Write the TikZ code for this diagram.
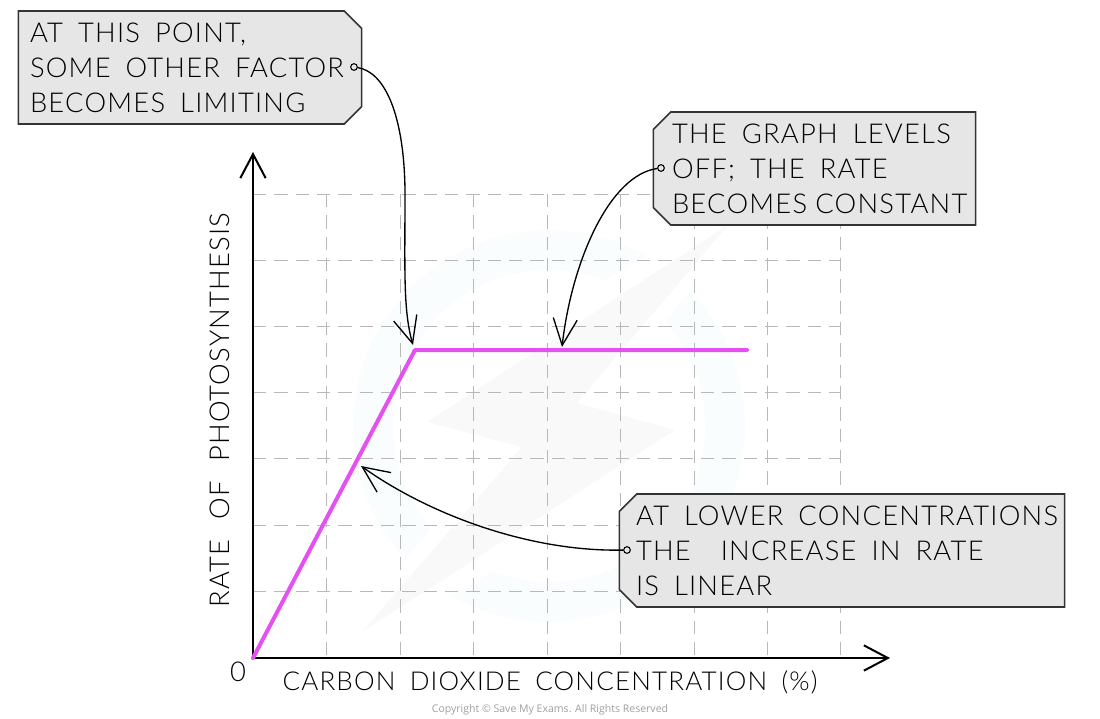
\documentclass[tikz,border=0pt]{standalone}
\usepackage{fontspec}
\usetikzlibrary{arrows.meta,shapes.misc}
\setmainfont{Lato Light}[LetterSpace=4.5]
\newfontfamily\copyfont{Open Sans}
\definecolor{boxfill}{HTML}{E6E6E6}
\definecolor{boxline}{HTML}{333333}
\definecolor{gridgray}{HTML}{B8B8B8}
\definecolor{curvepink}{HTML}{E450F2}
\definecolor{ringpale}{HTML}{FAFDFE}
\definecolor{boltpale}{HTML}{F9F9F9}
\newcommand{\wideword}{\spaceskip=0.55em\relax\xspaceskip=0.55em\relax}
\newcommand{\widerword}{\spaceskip=0.72em\relax\xspaceskip=0.72em\relax}
\tikzset{
  x=0.75pt,y=-0.75pt,
  callout/.style={chamfered rectangle,chamfered rectangle xsep=6.5pt,chamfered rectangle ysep=6.5pt,
    draw=boxline,fill=boxfill,line width=1.2pt,minimum height=84.75pt,align=left,inner ysep=0pt,
    font=\fontsize{20.5pt}{26.25pt}\selectfont},
  gridline/.style={gridgray,line width=0.7pt,dash pattern=on 10pt off 6pt},
  axisline/.style={black,line width=1.5pt,-{Straight Barb[length=18pt,width=19pt,line width=1.5pt]}},
  pointer/.style={black,line width=1pt,-{Straight Barb[length=20pt,width=18pt,line width=1pt]}},
  pin/.style={circle,draw=black,line width=0.8pt,fill=none,minimum size=5pt,inner sep=0pt},
  axislabel/.style={font=\fontsize{20.5pt}{24pt}\selectfont,inner sep=0pt},
}
\begin{document}
\begin{tikzpicture}
\useasboundingbox (0,0) rectangle (1100,718);
% watermark
\fill[ringpale,even odd rule] (549,426) circle[radius=147pt] (549,426) circle[radius=117pt];
\fill[white] (745,205) -- (607,278) -- (627,373) -- (690,290) -- (770,260) -- cycle;
\fill[white] (407,558) -- (473,477) -- (490,573) -- (400,623) -- (350,640) -- cycle;
\fill[boltpale] (728,225) -- (427,422) -- (522,447) -- (362,632) -- (675,430) -- (577,403) -- cycle;
% grid
\foreach \gx in {326,400,473,547,620,694,767,840}
  \draw[gridline] (\gx,194) -- (\gx,658);
\foreach \gy in {194,260,326,392,458,525,591}
  \draw[gridline] (253,\gy) -- (840,\gy);
% axes
\coordinate (origin) at (253,658);
\coordinate (ytop) at (253,152);
\coordinate (xend) at (890,658);
\draw[axisline] (origin) -- (ytop);
\draw[axisline] (origin) -- (xend);
% curve
\coordinate (knee) at (415,350);
\coordinate (curveend) at (747,350);
\draw[curvepink,line width=3pt,line cap=round,line join=round] (origin) -- (knee) -- (curveend);
% labels
\node[axislabel,rotate=90] (ylabel) at (220,410) {\widerword RATE OF PHOTOSYNTHESIS};
\node[axislabel,font=\fontsize{19.5pt}{24pt}\selectfont] (xlabel) at (550,682) {\wideword CARBON DIOXIDE CONCENTRATION (\%)};
\node[axislabel] (zero) at (238,672) {0};
\node[font=\copyfont\fontsize{7.9pt}{9pt}\selectfont,text=gray!75,inner sep=0pt] (copyright) at (550,710) {Copyright © Save My Exams. All Rights Reserved};
% callouts
\node[callout,chamfered rectangle corners={north east,south east},text width=240pt,inner xsep=2.25pt] (boxa) at (190,67.5)
  {\wideword\mbox{AT THIS POINT,}\\\mbox{SOME OTHER FACTOR}\\\mbox{BECOMES LIMITING}};
\node[callout,chamfered rectangle corners={north west,south west},text width=213.75pt,inner xsep=7.5pt] (boxb) at (814.5,168.5)
  {\wideword\mbox{THE GRAPH LEVELS}\\\mbox{OFF; THE RATE}\\\mbox{\spaceskip=0.3em\relax BECOMES CONSTANT}};
\node[callout,chamfered rectangle corners={north west,south west},text width=309pt,inner xsep=6pt] (boxc) at (842,550.5)
  {\wideword\mbox{AT LOWER CONCENTRATIONS}\\\mbox{THE \ INCREASE IN RATE}\\\mbox{IS LINEAR}};
% pointers
\node[pin] (pina) at (354,67) {};
\node[pin] (pinb) at (661,168) {};
\node[pin] (pinc) at (627,550) {};
\coordinate (tipa) at (413,345);
\coordinate (tipb) at (562,347);
\coordinate (tipc) at (361,466);
\coordinate (waya) at (405,190);
\draw[black,line width=1pt] (pina) .. controls (385,72) and (404,115) .. (waya);
\draw[pointer] (waya) .. controls (405,270) and (403,310) .. (tipa);
\draw[pointer] (pinb) .. controls (610,175) and (572,260) .. (tipb);
\draw[pointer] (pinc) .. controls (530,552) and (430,515) .. (tipc);
\end{tikzpicture}
\end{document}
